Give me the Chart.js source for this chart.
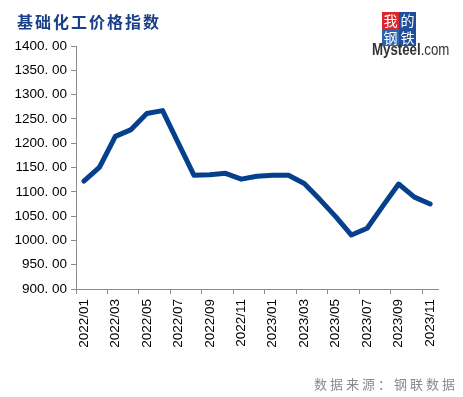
<!DOCTYPE html>
<html lang="zh">
<head>
  <meta charset="UTF-8" />
  <title>基础化工价格指数</title>
  <script src="https://cdn.jsdelivr.net/npm/chart.js"></script>
  <style>
    html, body {
      margin: 0;
      padding: 0;
      background: #fff;
    }
    #wrap {
      position: relative;
      width: 463px;
      height: 397px;
      overflow: hidden;
    }
    #chart {
      position: absolute;
      left: 0;
      top: 0;
    }
    .title {
      position: absolute;
      left: 17px;
      top: 9px;
      font-family: "Noto Sans CJK SC", sans-serif;
      font-weight: bold;
      font-size: 16px;
      letter-spacing: 2px;
      color: #1a3f8a;
    }
    .logo-box {
      position: absolute;
      width: 17px;
      height: 17px;
      color: #fff;
      font-family: "Noto Sans CJK SC", sans-serif;
      font-size: 14px;
      line-height: 17px;
      text-align: center;
    }
    .logo-text {
      position: absolute;
      left: 372px;
      top: 40px;
      font-family: "Liberation Sans", Arial, sans-serif;
      font-size: 17px;
      color: #333;
      transform: scaleX(0.78);
      transform-origin: left top;
      white-space: nowrap;
    }
    .source {
      position: absolute;
      right: 5px;
      top: 374px;
      font-family: "Noto Sans CJK SC", sans-serif;
      font-size: 13px;
      letter-spacing: 3px;
      color: #8a8a8a;
    }
  </style>
</head>
<body>
  <div id="wrap">
    <canvas id="chart" width="463" height="397"></canvas>
    <div class="title">基础化工价格指数</div>
    <div class="logo-box" style="left:382px;top:12px;background:#d9272e;">我</div>
    <div class="logo-box" style="left:399px;top:12px;background:#1f4e9c;">的</div>
    <div class="logo-box" style="left:382px;top:29px;background:#2b64b0;">钢</div>
    <div class="logo-box" style="left:399px;top:29px;background:#1f4e9c;">铁</div>
    <div class="logo-text"><b>Mysteel</b>.com</div>
    <div class="source">数据来源：钢联数据</div>
  </div>

  <script>
    // months 2022/01 .. 2023/11
    const months = [
      '2022/01', '2022/02', '2022/03', '2022/04', '2022/05', '2022/06',
      '2022/07', '2022/08', '2022/09', '2022/10', '2022/11', '2022/12',
      '2023/01', '2023/02', '2023/03', '2023/04', '2023/05', '2023/06',
      '2023/07', '2023/08', '2023/09', '2023/10', '2023/11'
    ];
    const indexValues = [
      1122, 1151, 1214, 1228, 1261, 1267,
      1200, 1134, 1135, 1138, 1126, 1132,
      1134, 1134, 1117, 1084, 1049, 1011,
      1025, 1071, 1116, 1089, 1075
    ];
    const yMin = 900;
    const yMax = 1400;
    const yStep = 50;

    const axisGray = '#8c8c8c';
    const labelFont = { family: '"Liberation Sans", Arial, sans-serif', size: 13.5 };

    new Chart(document.getElementById('chart'), {
      type: 'line',
      data: {
        labels: months,
        datasets: [{
          data: indexValues,
          borderColor: '#063f8c',
          borderWidth: 5,
          pointRadius: 0,
          tension: 0,
          borderJoinStyle: 'round',
          borderCapStyle: 'round'
        }]
      },
      options: {
        responsive: false,
        animation: false,
        layout: { padding: { top: 46, right: 25, left: 0, bottom: 0 } },
        plugins: {
          legend: { display: false },
          tooltip: { enabled: false }
        },
        scales: {
          x: {
            offset: true,
            border: { color: axisGray, width: 1 },
            grid: {
              offset: true,
              drawOnChartArea: false,
              tickLength: 5,
              tickColor: ctx => (ctx.type === 'tick' && ctx.index % 2 === 0) ? axisGray : 'rgba(0,0,0,0)'
            },
            ticks: {
              autoSkip: false,
              maxRotation: 90,
              minRotation: 90,
              padding: 5,
              color: '#000',
              font: labelFont,
              callback: (v, i) => i % 2 === 0 ? months[i] : ''
            },
            afterFit: s => { s.height = 397 - 289; }
          },
          y: {
            min: yMin,
            max: yMax,
            border: { color: axisGray, width: 1 },
            grid: {
              drawOnChartArea: false,
              tickLength: 5,
              tickColor: axisGray
            },
            ticks: {
              stepSize: yStep,
              padding: 4,
              color: '#000',
              font: labelFont,
              callback: v => v.toFixed(2).replace('.', '. ')
            },
            afterFit: s => { s.width = 76; }
          }
        }
      }
    });
  </script>
</body>
</html>
